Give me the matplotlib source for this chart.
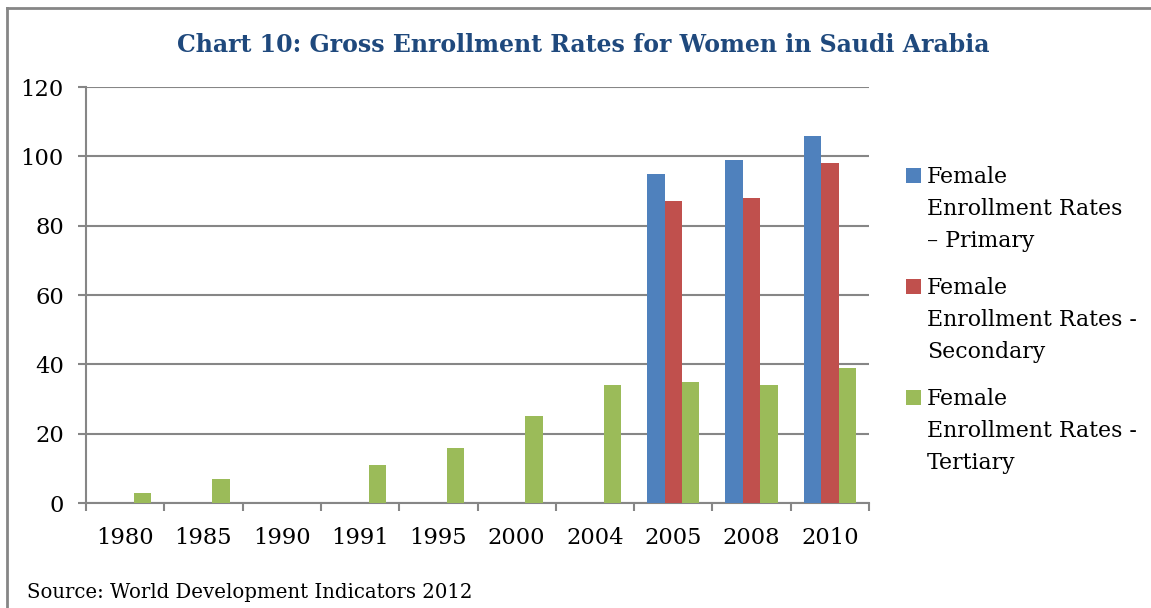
import matplotlib
matplotlib.use("Agg")
import matplotlib.pyplot as plt
from matplotlib.patches import Rectangle
from matplotlib.lines import Line2D
import numpy as np

# data
years = ["1980", "1985", "1990", "1991", "1995", "2000", "2004", "2005", "2008", "2010"]
primary = [0, 0, 0, 0, 0, 0, 0, 95, 99, 106]
secondary = [0, 0, 0, 0, 0, 0, 0, 87, 88, 98]
tertiary = [3, 7, 0, 11, 16, 25, 34, 35, 34, 39]
labels = ["Female\nEnrollment Rates\n\u2013 Primary",
          "Female\nEnrollment Rates -\nSecondary",
          "Female\nEnrollment Rates -\nTertiary"]
colors = ["#4F81BD", "#C0504D", "#9BBB59"]

plt.rcParams['font.family'] = ['DejaVu Serif']
grid_col = "#868686"

fig = plt.figure(figsize=(11.51, 6.08), dpi=100)
ax = fig.add_axes([86/1151, 1-503/608, (869-86)/1151, (503-87)/608])

x = np.arange(len(years))
w = 0.222
for k, vals in enumerate([primary, secondary, tertiary]):
    ax.bar(x + (k-1)*w, vals, width=w, color=colors[k], edgecolor='none', zorder=3)

ax.set_xlim(-0.5, len(years)-0.5)
ax.set_ylim(0, 120)
ax.set_yticks(range(0, 121, 20))
ax.yaxis.grid(True, color=grid_col, linewidth=1.5, zorder=0)
ax.set_xticks(x)
ax.set_xticklabels(years)
ax.set_xticks(np.arange(-0.5, len(years)), minor=True)
ax.tick_params(axis='x', which='major', length=0, labelsize=16.3, pad=17.5)
ax.tick_params(axis='x', which='minor', length=6, width=1.5, color=grid_col, direction='out')
ax.tick_params(axis='y', length=6, width=1.5, color=grid_col, labelsize=16.3, pad=10)
for s in ['top', 'right']:
    ax.spines[s].set_visible(False)
for s in ['left', 'bottom']:
    ax.spines[s].set_color(grid_col)
    ax.spines[s].set_linewidth(1.5)

fig.text(583/1151, 1-45/608, "Chart 10: Gross Enrollment Rates for Women in Saudi Arabia",
         ha='center', va='center', fontsize=17, fontweight='bold', color='#1F497D')
fig.text(27/1151, 1-592/608, "Source: World Development Indicators 2012",
         ha='left', va='center', fontsize=14.2, color='black')

# legend
for k in range(3):
    ytop = 168 + k*111
    fig.patches.append(Rectangle((906/1151, 1-(ytop+15)/608), 15/1151, 15/608,
                                 transform=fig.transFigure, facecolor=colors[k],
                                 edgecolor='none'))
    fig.text(927/1151, 1-(ytop-2)/608, labels[k], ha='left', va='top',
             fontsize=15.8, linespacing=1.59)

# outer frame (top and left only visible)
fig.add_artist(Line2D([7/1151, 7/1151], [0, 1-8/608], transform=fig.transFigure,
                      color=grid_col, linewidth=2))
fig.add_artist(Line2D([7/1151, 1], [1-8/608, 1-8/608], transform=fig.transFigure,
                      color=grid_col, linewidth=2))

fig.savefig("out.png", dpi=100)
